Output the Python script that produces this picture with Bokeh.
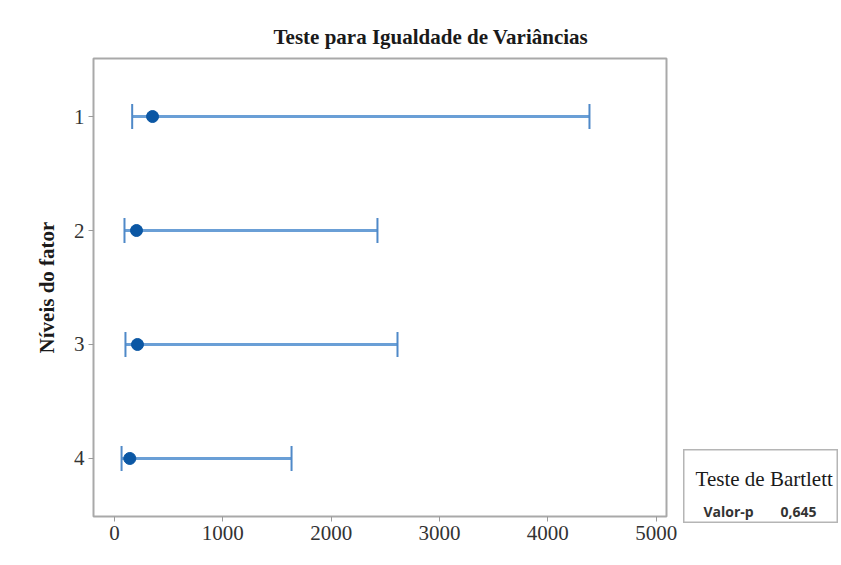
from math import pi
from bokeh.plotting import figure
from bokeh.models import Range1d, Spacer
from bokeh.layouts import row, column
from bokeh.core.properties import value
from bokeh.embed import file_html
from bokeh.resources import INLINE

# ---- data ----
levels = [1, 2, 3, 4]
level_labels = ["1", "2", "3", "4"]
lower = [163, 92, 101, 65]
sigma = [351, 203, 212, 141]
upper = [4384, 2427, 2612, 1634]
x_ticks = [0, 1000, 2000, 3000, 4000, 5000]
title_text = "Teste para Igualdade de Variâncias"
ylabel_text = "Níveis do fator"
test_name = "Teste de Bartlett"
p_label = "Valor-p"
p_value = "0,645"

SERIF = "Liberation Serif"

p = figure(width=683, height=565, output_backend="svg", toolbar_location=None,
           x_range=Range1d(-194, 5095), y_range=Range1d(4.509, 0.491),
           min_border_left=93, min_border_right=17,
           min_border_top=58, min_border_bottom=49)
p.background_fill_color = "white"
p.border_fill_color = "white"
p.outline_line_color = "#a9a9a9"
p.outline_line_width = 2
p.grid.visible = False

p.title.text = title_text
p.title.align = "left"
p.title.offset = 180
p.title.standoff = 20
p.title.text_font = SERIF
p.title.text_font_style = "bold"
p.title.text_font_size = "21px"
p.title.text_color = "#1a1a1a"

for ax in (p.xaxis[0], p.yaxis[0]):
    ax.axis_line_color = None
    ax.minor_tick_line_color = None
    ax.major_tick_in = 0
    ax.major_tick_out = 5
    ax.major_tick_line_color = "#9a9a9a"
    ax.major_label_text_font = SERIF
    ax.major_label_text_font_size = "21px"
    ax.major_label_text_color = "#333333"
    ax.major_label_standoff = 4

p.xaxis.ticker = x_ticks
p.yaxis.ticker = levels
p.yaxis.major_label_overrides = {lv: lab for lv, lab in zip(levels, level_labels)}
p.yaxis.axis_label = ylabel_text
p.yaxis.axis_label_text_font = SERIF
p.yaxis.axis_label_text_font_style = "bold"
p.yaxis.axis_label_text_font_size = "21px"
p.yaxis.axis_label_text_color = "#1a1a1a"
p.yaxis.axis_label_standoff = 12

line_col = "#6a9fd6"
p.segment(x0=lower, y0=levels, x1=upper, y1=levels, line_color=line_col,
          line_width=3)
p.scatter(x=lower, y=levels, marker="dash", angle=pi / 2, size=25,
          line_color="#4f89c8", line_width=2)
p.scatter(x=upper, y=levels, marker="dash", angle=pi / 2, size=25,
          line_color="#4f89c8", line_width=2)
p.scatter(x=sigma, y=levels, size=12, fill_color="#0b57a4", line_color="#0b57a4")

# ---- legend box (own small figure) ----
lf = figure(width=155, height=74, output_backend="svg", toolbar_location=None,
            title=None,
            x_range=Range1d(0, 155), y_range=Range1d(0, 74),
            x_axis_type=None, y_axis_type=None,
            min_border=0, min_border_left=0, min_border_right=0,
            min_border_top=0, min_border_bottom=0)
lf.grid.visible = False
lf.outline_line_color = "#b5b5b5"
lf.outline_line_width = 2
lf.background_fill_color = "white"
lf.border_fill_color = "white"
lf.text(x=[80.7], y=[44.3], text=[test_name], text_font=value(SERIF),
        text_font_size="21px", text_align="center", text_baseline="alphabetic",
        text_color="#1a1a1a")
lf.text(x=[20, 97], y=[12, 12], text=[p_label, p_value], text_font=value("Open Sans"),
        text_font_style="bold", text_font_size="14px", text_align="left",
        text_baseline="alphabetic", text_color="#333333")

layout = row(p, column(Spacer(width=155, height=449), lf))
open("out.html", "w").write(file_html(layout, INLINE))
